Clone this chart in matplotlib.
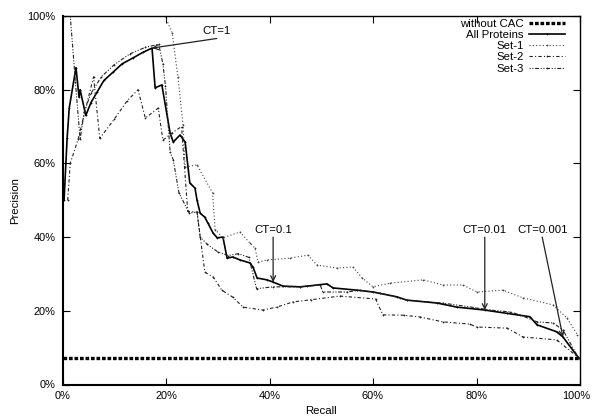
"""
Precision / recall curves with CAC thresholds (gnuplot-style look)
"""

import matplotlib
matplotlib.use('Agg')
import matplotlib.pyplot as plt
from matplotlib.ticker import FuncFormatter, MultipleLocator

matplotlib.rcParams['font.family'] = ['Liberation Sans', 'DejaVu Sans']
matplotlib.rcParams['font.size'] = 8.2

# Baseline without CAC
base_recall = [0, 100]
base_prec = [7.1, 7.1]

# All Proteins
all_recall = [0.3, 0.9, 1.3, 2.6, 3.2, 3.4, 4.5, 5.5, 6.7, 8.0, 9.8, 11.5, 13.6, 15.5, 17.3,
              17.9, 19.2, 20.8, 21.4, 22.7, 23.7, 24.6, 25.6, 26.0, 26.6, 27.5, 28.1, 29.1,
              29.9, 31.0, 31.8, 32.9, 34.3, 36.2, 36.8, 37.6, 39.5, 40.7, 42.6, 45.9, 47.3,
              51.1, 52.3, 56.9, 60.0, 64.6, 66.5, 72.4, 76.2, 81.6, 85.9, 90.3, 91.7, 95.5,
              96.7, 99.8]
all_prec = [50, 67, 75, 86, 78, 80, 73, 76.5, 79.4, 82.5, 84.8, 87.0, 88.6, 90.1, 91.3,
            80.5, 81.3, 68.2, 65.8, 67.7, 65.8, 54.7, 53.3, 50.0, 46.5, 45.4, 43.8, 41.1,
            39.8, 40.0, 34.3, 34.6, 33.8, 33.0, 31.9, 28.9, 28.4, 27.8, 26.7, 26.5, 26.7,
            27.3, 26.2, 25.6, 25.1, 23.8, 22.9, 22.1, 21.0, 20.2, 19.3, 18.4, 16.2, 14.3,
            12.9, 7.1]

# Set-1
set1_recall = [0.5, 19.8, 21.2, 22.3, 23.3, 23.7, 26.0, 29.0, 29.5, 31.0, 34.3, 36.2, 37.2,
               37.8, 39.5, 44.0, 47.4, 49.2, 53.0, 56.1, 57.9, 60.0, 63.3, 69.7, 73.5, 77.4,
               80.1, 85.1, 89.0, 94.8, 97.5, 99.5]
set1_prec = [100, 100, 95.4, 83.4, 70.4, 59, 59.6, 52, 42, 39.8, 41.4, 38.4, 37, 33.2, 33.8,
             34.3, 35.1, 32.4, 31.6, 31.9, 28.9, 26.5, 27.5, 28.4, 27, 27, 25.1, 25.6, 23.5,
             21.6, 18, 13.5]

# Set-2
set2_recall = [1.0, 1.5, 3.0, 6.0, 7.2, 10.0, 12.5, 14.6, 16.0, 18.5, 19.4, 21.1, 23.0, 24.2,
               26.0, 27.5, 29.1, 30.8, 32.9, 34.9, 38.7, 41.4, 44.5, 48.0, 53.6, 60.5, 61.9,
               66.0, 69.1, 73.5, 78.7, 80.0, 85.9, 89.0, 95.5, 99.8]
set2_prec = [50, 60, 66.5, 83.5, 66.8, 72, 77, 80, 72.3, 75, 66.3, 68.2, 70, 47, 46.8, 30.5,
             29.2, 25.6, 23.7, 21, 20.2, 21, 22.4, 23, 24, 23.2, 18.9, 18.8, 18.3, 17, 16.4,
             15.6, 15.3, 12.9, 12.1, 7.2]

# Set-3
set3_recall = [1.5, 2.5, 3.4, 4.2, 5.5, 7.5, 10, 13, 16, 18.6, 19.4, 19.9, 20.8, 21.4, 22.5,
               24.5, 26.0, 26.6, 28, 30, 32, 34, 36, 37.5, 40.7, 45.9, 49.8, 50.3, 55, 57.5,
               61.4, 65.2, 66.5, 73.5, 80, 82.6, 86.5, 88.4, 91.7, 94.8, 96.7, 99.6]
set3_prec = [100, 82, 66.5, 74, 79, 83.5, 86.8, 89.7, 91.5, 92.3, 87, 81, 63, 61, 52, 46.5,
             46.8, 40, 38, 36, 35, 35.5, 34.5, 26, 26.5, 26.5, 27, 25.1, 25.1, 25.6, 24.8,
             23.5, 22.9, 22.1, 20.8, 20.2, 19.7, 18.9, 17, 16.7, 14.8, 7.5]

# CT annotations: label, arrow head (recall, precision), text position
ct_labels = ['CT=1', 'CT=0.1', 'CT=0.01', 'CT=0.001']
ct_heads = [(17.3, 91.3), (40.7, 27.8), (81.6, 20.2), (96.7, 12.9)]
ct_text = [(29.8, 95.8), (40.7, 41.9), (81.5, 41.9), (92.8, 41.9)]
ct_tails = [(29.8, 93.9), (40.7, 40.0), (81.6, 40.0), (92.7, 40.0)]

fig = plt.figure(figsize=(5.92, 4.17), dpi=100)
ax = fig.add_axes([62.5 / 592, 1 - 384.5 / 417, 517.5 / 592, 368.5 / 417])

ax.plot(base_recall, base_prec, color='black', lw=2.4,
        linestyle=(0, (1.1, 0.55)), label='without CAC')
ax.plot(all_recall, all_prec, color='black', lw=1.2, label='All Proteins',
        marker='+', ms=2, mew=0.5)
ax.plot(set1_recall, set1_prec, color='#444444', lw=0.8, linestyle=(0, (1, 2)),
        label='Set-1', marker='+', ms=2, mew=0.5)
ax.plot(set2_recall, set2_prec, color='#222222', lw=0.8, linestyle=(0, (3, 2, 1, 2)),
        label='Set-2', marker='+', ms=2, mew=0.5)
ax.plot(set3_recall, set3_prec, color='#222222', lw=0.8,
        linestyle=(0, (1, 1.5, 1, 1.5, 3.5, 1.5)), label='Set-3',
        marker='+', ms=2, mew=0.5)

for label, head, tail, tpos in zip(ct_labels, ct_heads, ct_tails, ct_text):
    ax.annotate('', xy=head, xytext=tail,
                arrowprops=dict(arrowstyle='->', color='#222222', lw=0.9,
                                shrinkA=0, shrinkB=0, mutation_scale=9))
    ax.text(tpos[0], tpos[1], label, ha='center', va='center', fontsize=8.2)

ax.set_xlim(0, 100)
ax.set_ylim(0, 100)
ax.xaxis.set_major_locator(MultipleLocator(20))
ax.yaxis.set_major_locator(MultipleLocator(20))
# last x label is drawn by hand, a bit to the left, so it stays inside the figure
ax.xaxis.set_major_formatter(FuncFormatter(lambda v, p: '' if v >= 100 else f'{v:.0f}%'))
ax.yaxis.set_major_formatter(FuncFormatter(lambda v, p: f'{v:.0f}%'))
ax.tick_params(direction='in', length=5, width=0.8, top=True, right=True,
               labelsize=7.9, pad=5)
ax.annotate('100%', xy=(100, 0), xycoords=('data', 'axes fraction'),
            xytext=(-2.5, -5), textcoords='offset points',
            ha='center', va='top', fontsize=7.9)
ax.set_xlabel('Recall', fontsize=8.2, labelpad=3)
ax.set_ylabel('Precision', fontsize=8.2, labelpad=5)

for side in ['left', 'bottom']:
    ax.spines[side].set_linewidth(1.5)
for side in ['top', 'right']:
    ax.spines[side].set_linewidth(1.0)

ax.legend(loc='upper right', bbox_to_anchor=(0.971, 0.992), frameon=False,
          markerfirst=False, borderpad=0, borderaxespad=0, handlelength=3.2,
          handletextpad=0.45, labelspacing=0.1, numpoints=1, fontsize=8.2)

plt.savefig('out.png', dpi=100)
plt.close()
